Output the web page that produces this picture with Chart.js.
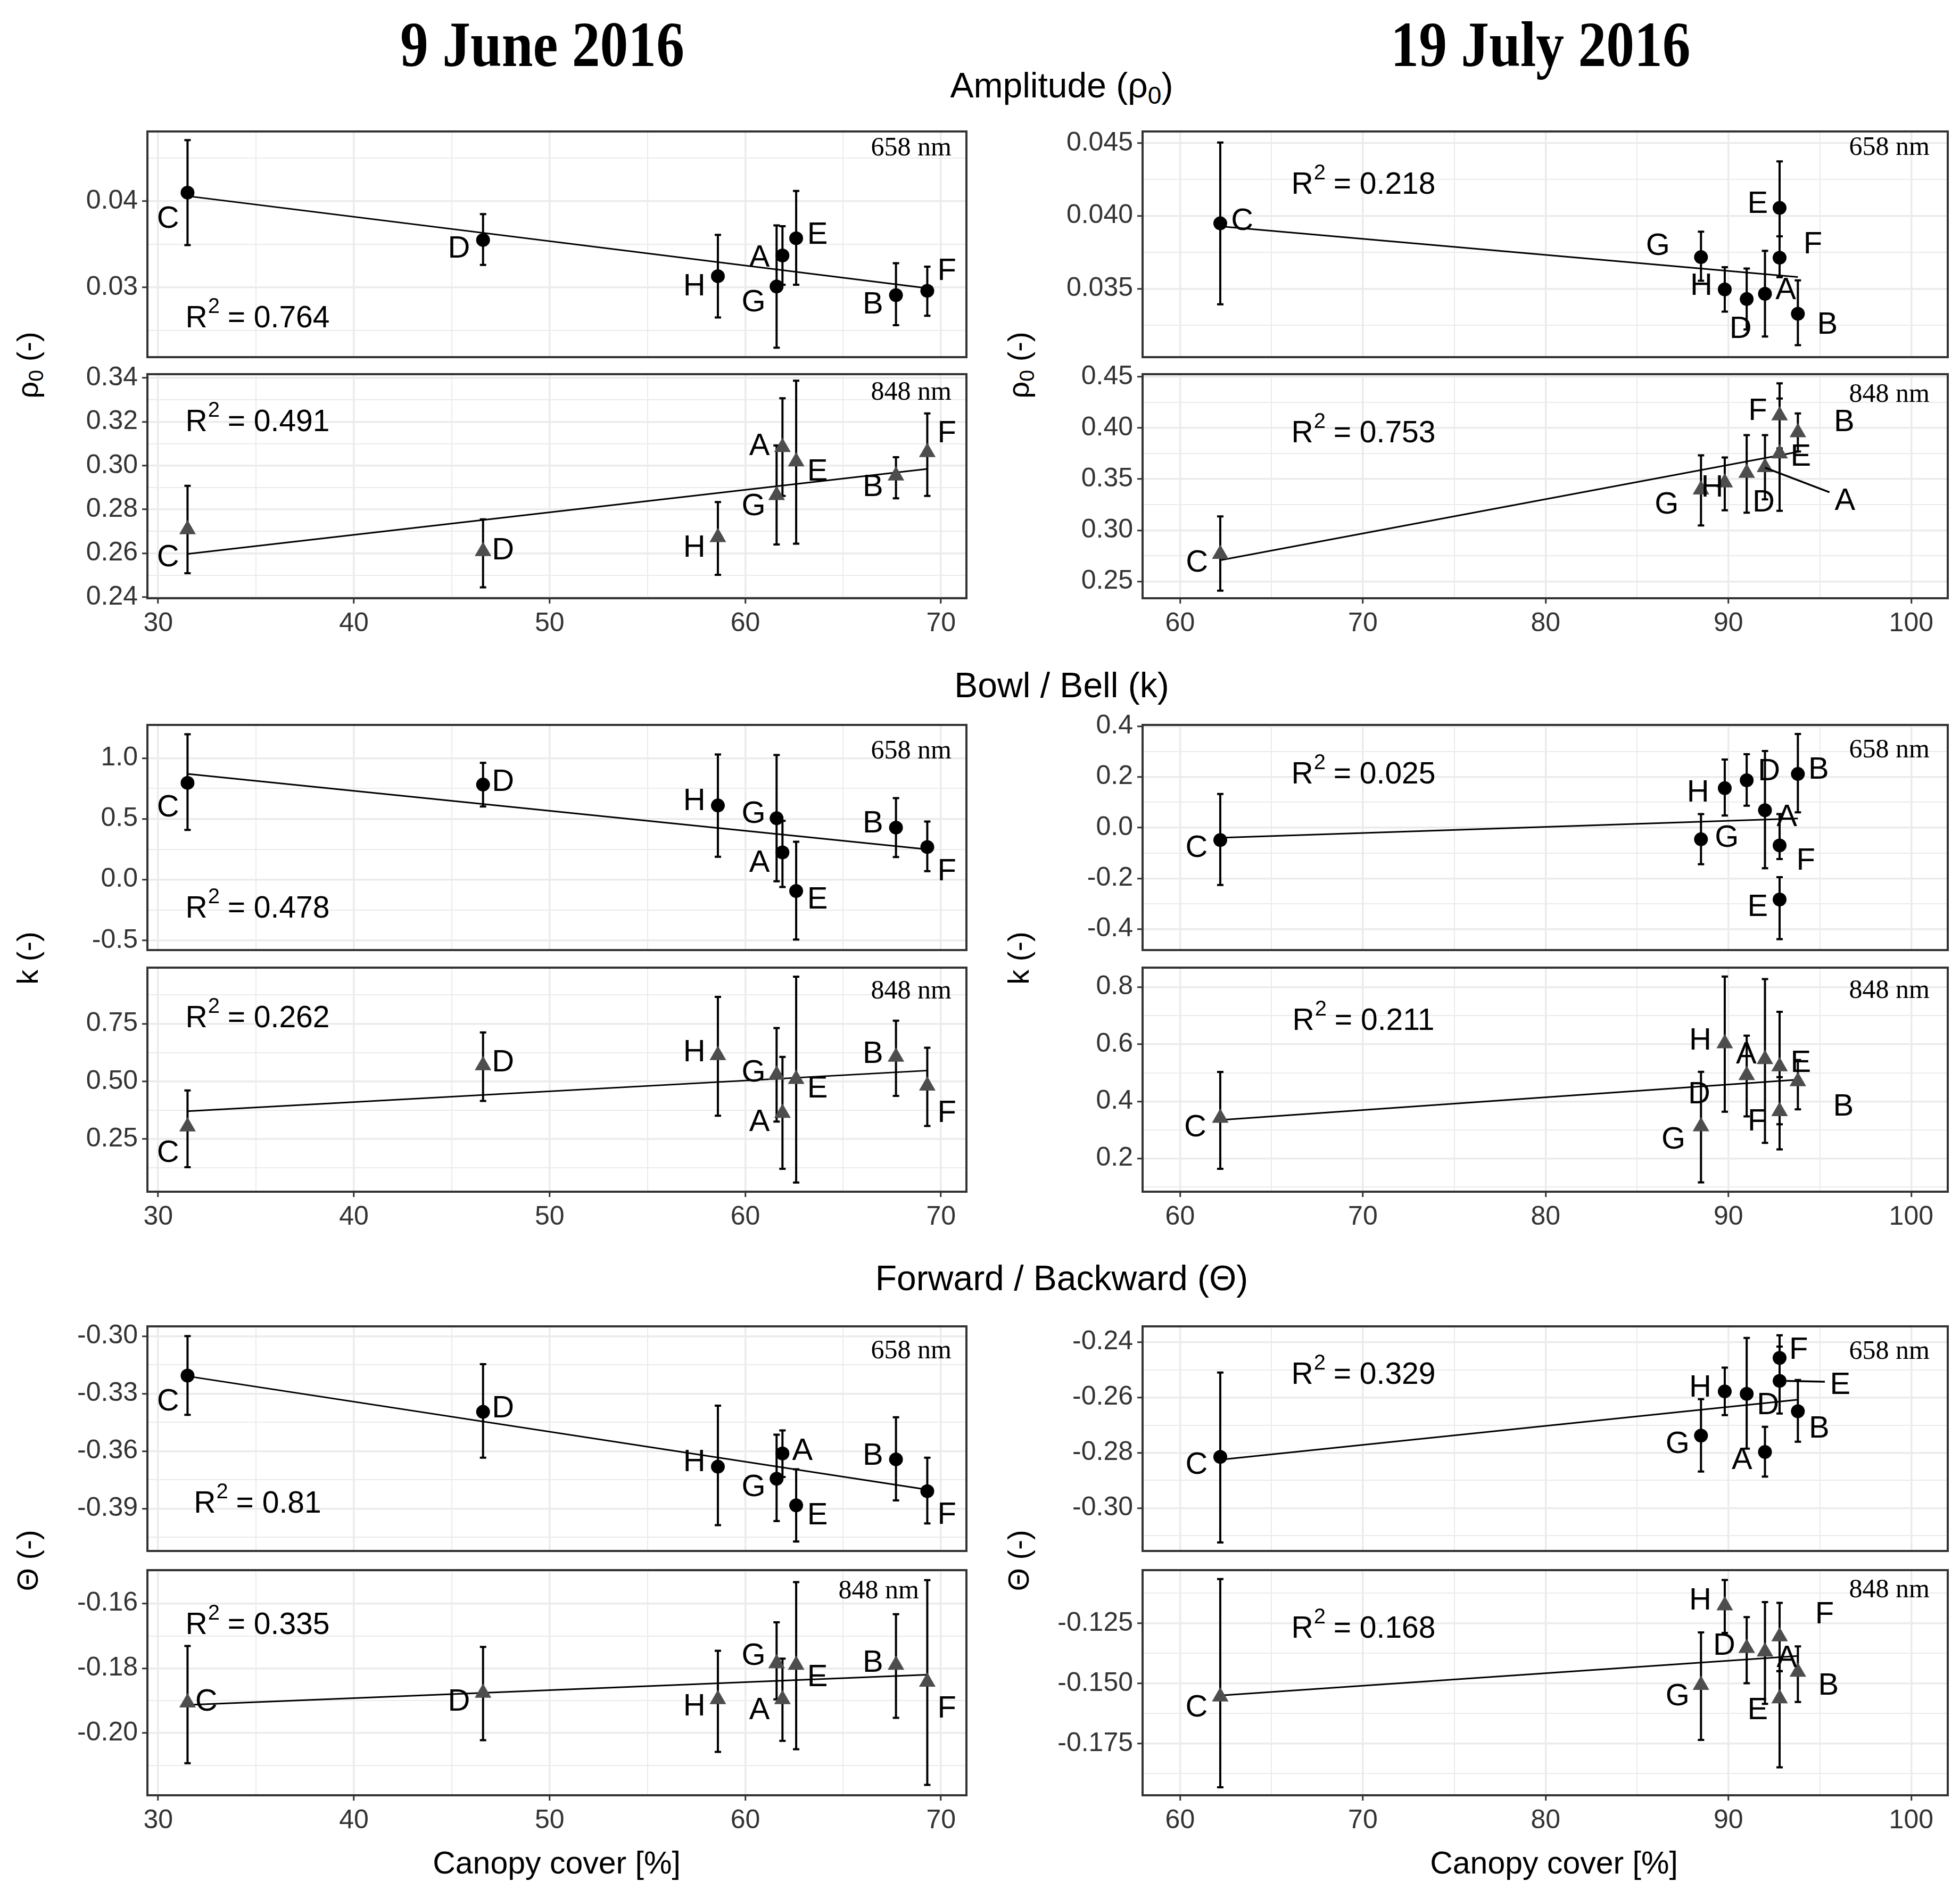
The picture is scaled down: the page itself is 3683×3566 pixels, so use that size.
<!DOCTYPE html>
<html lang="en">
<head>
<meta charset="UTF-8" />
<title>Canopy cover vs BRDF parameters</title>
<script src="https://cdn.jsdelivr.net/npm/chart.js"></script>
<style>
  body { margin:0; width:3683px; height:3566px; background:#fff; position:relative; overflow:hidden;
         font-family:"Liberation Sans", Arial, sans-serif; color:#000; }
  .txt { position:absolute; white-space:nowrap; transform:translate(-50%,-50%); line-height:1; }
  .date { font-family:"Liberation Serif", serif; font-weight:bold; font-size:120px; transform:translate(-50%,-50%) scaleX(0.88); }
  .section { font-size:66px; }
  .ytitle { font-size:56px; transform:translate(-50%,-50%) rotate(-90deg); }
  .xtitle { font-size:59px; }
  sub { font-size:0.7em; vertical-align:-0.25em; line-height:0; }
  canvas { position:absolute; }
</style>
</head>
<body>
<div class="txt date" style="left:1019px;top:84px">9 June 2016</div>
<div class="txt date" style="left:2895px;top:84px">19 July 2016</div>
<div class="txt section" style="left:1995px;top:160px">Amplitude (ρ<sub>0</sub>)</div>
<div class="txt section" style="left:1995px;top:1287px">Bowl / Bell (k)</div>
<div class="txt section" style="left:1995px;top:2401px">Forward / Backward (Θ)</div>
<div class="txt ytitle" style="left:52px;top:686px">ρ<sub>0</sub> (-)</div>
<div class="txt ytitle" style="left:1914px;top:686px">ρ<sub>0</sub> (-)</div>
<div class="txt ytitle" style="left:52px;top:1800px">k (-)</div>
<div class="txt ytitle" style="left:1914px;top:1800px">k (-)</div>
<div class="txt ytitle" style="left:52px;top:2932px">Θ (-)</div>
<div class="txt ytitle" style="left:1914px;top:2932px">Θ (-)</div>
<div class="txt xtitle" style="left:1046px;top:3500px">Canopy cover [%]</div>
<div class="txt xtitle" style="left:2920px;top:3500px">Canopy cover [%]</div>
<script>
// sites, in this order everywhere: A B C D E F G H
var sites = ["A", "B", "C", "D", "E", "F", "G", "H"];
var coverJune = [61.9, 67.7, 31.5, 46.6, 62.6, 69.3, 61.6, 58.6];
var coverJuly = [92.0, 93.8, 62.2, 91.0, 92.8, 92.8, 88.5, 89.8];

// amplitude rho0, 9 June
var rhoJun658 = [0.0337, 0.0291, 0.0410, 0.0355, 0.0357, 0.0296, 0.0301, 0.0313];
var rhoJun658Lo = [0.0303, 0.0256, 0.0349, 0.0326, 0.0303, 0.0267, 0.0230, 0.0265];
var rhoJun658Hi = [0.0371, 0.0328, 0.0471, 0.0385, 0.0412, 0.0324, 0.0372, 0.0361];
var rhoJun658Fit = [0.0406, 0.0299];
var rhoJun848 = [0.3084, 0.2954, 0.2709, 0.2609, 0.3018, 0.3061, 0.2865, 0.2673];
var rhoJun848Lo = [0.2862, 0.2851, 0.2509, 0.2445, 0.2644, 0.2862, 0.2640, 0.2502];
var rhoJun848Hi = [0.3307, 0.3038, 0.2908, 0.2755, 0.3387, 0.3238, 0.3092, 0.2834];
var rhoJun848Fit = [0.2597, 0.2985];
// amplitude rho0, 19 July
var rhoJul658 = [0.03465, 0.03328, 0.03949, 0.03429, 0.04055, 0.03713, 0.03717, 0.03495];
var rhoJul658Lo = [0.03172, 0.03112, 0.03393, 0.0322, 0.0386, 0.03579, 0.03555, 0.03343];
var rhoJul658Hi = [0.0376, 0.03557, 0.04504, 0.03639, 0.04374, 0.0386, 0.03892, 0.03648];
var rhoJul658Fit = [0.03928, 0.0358];
var rhoJul848 = [0.3616, 0.3957, 0.2768, 0.356, 0.375, 0.4121, 0.3397, 0.3466];
var rhoJul848Lo = [0.3302, 0.3771, 0.241, 0.3172, 0.319, 0.38, 0.3047, 0.3195];
var rhoJul848Hi = [0.3931, 0.4143, 0.3136, 0.3931, 0.4288, 0.4436, 0.3733, 0.3712];
var rhoJul848Fit = [0.2708, 0.3767];

// bowl / bell k
var kJun658 = [0.224, 0.428, 0.796, 0.782, -0.094, 0.268, 0.505, 0.610];
var kJun658Lo = [-0.061, 0.185, 0.409, 0.602, -0.494, 0.069, -0.014, 0.188];
var kJun658Hi = [0.483, 0.671, 1.196, 0.961, 0.312, 0.478, 1.025, 1.030];
var kJun658Fit = [0.870, 0.249];
var kJun848 = [0.363, 0.606, 0.304, 0.569, 0.510, 0.481, 0.528, 0.613];
var kJun848Lo = [0.121, 0.437, 0.128, 0.415, 0.062, 0.307, 0.326, 0.351];
var kJun848Hi = [0.606, 0.763, 0.461, 0.712, 0.954, 0.646, 0.731, 0.866];
var kJun848Fit = [0.371, 0.547];
var kJul658 = [0.0688, 0.2118, -0.049, 0.1868, -0.2833, -0.0701, -0.0458, 0.1556];
var kJul658Lo = [-0.160, 0.0604, -0.226, 0.0868, -0.4396, -0.124, -0.1444, 0.0479];
var kJul658Hi = [0.302, 0.3694, 0.133, 0.2896, -0.195, 0.0535, 0.0535, 0.2688];
var kJul658Fit = [-0.04, 0.036];
var kJul848 = [0.547, 0.47, 0.342, 0.4914, 0.522, 0.365, 0.3123, 0.6025];
var kJul848Lo = [0.255, 0.372, 0.164, 0.3475, 0.32, 0.232, 0.1167, 0.3636];
var kJul848Hi = [0.828, 0.545, 0.503, 0.6302, 0.7136, 0.485, 0.5037, 0.837];
var kJul848Fit = [0.335, 0.476];

// forward / backward theta
var thJun658 = [-0.3612, -0.3643, -0.3206, -0.3395, -0.3883, -0.3809, -0.3744, -0.3681];
var thJun658Lo = [-0.3735, -0.3857, -0.3411, -0.3634, -0.4072, -0.3977, -0.3965, -0.3986];
var thJun658Hi = [-0.3492, -0.3423, -0.3000, -0.3146, -0.3695, -0.3634, -0.3514, -0.3363];
var thJun658Fit = [-0.3209, -0.3801];
var thJun848 = [-0.1896, -0.1790, -0.1906, -0.1876, -0.1790, -0.1842, -0.1785, -0.1896];
var thJun848Lo = [-0.2024, -0.1953, -0.2093, -0.2022, -0.2050, -0.2160, -0.1896, -0.2058];
var thJun848Hi = [-0.1770, -0.1633, -0.1731, -0.1734, -0.1534, -0.1528, -0.1658, -0.1746];
var thJun848Fit = [-0.1913, -0.1820];
var thJul658 = [-0.2797, -0.265, -0.2815, -0.2587, -0.254, -0.2457, -0.2738, -0.2578];
var thJul658Lo = [-0.2886, -0.276, -0.3124, -0.2785, -0.2658, -0.2535, -0.2868, -0.2664];
var thJul658Hi = [-0.2706, -0.2537, -0.251, -0.2385, -0.2416, -0.2375, -0.2606, -0.2492];
var thJul658Fit = [-0.2825, -0.2608];
var thJul848 = [-0.1368, -0.1452, -0.1555, -0.1353, -0.1563, -0.1305, -0.1507, -0.1176];
var thJul848Lo = [-0.1585, -0.1577, -0.1932, -0.1499, -0.1849, -0.1449, -0.1735, -0.1290];
var thJul848Hi = [-0.1162, -0.1346, -0.1066, -0.1224, -0.1449, -0.1165, -0.1288, -0.1070];
var thJul848Fit = [-0.155, -0.1386];

// R squared per panel (row by row, June then July)
var r2Jun = ["0.764", "0.491", "0.478", "0.262", "0.81", "0.335"];
var r2Jul = ["0.218", "0.753", "0.025", "0.211", "0.329", "0.168"];

// x axes
var xJuneRange = [29.45, 71.3];
var xJuneTicks = [30, 40, 50, 60, 70];
var xJuneTickLabels = ["30", "40", "50", "60", "70"];
var xJuneMinor = [35, 45, 55, 65];
var xJulyRange = [57.95, 102];
var xJulyTicks = [60, 70, 80, 90, 100];
var xJulyTickLabels = ["60", "70", "80", "90", "100"];
var xJulyMinor = [65, 75, 85, 95];

// y axes
var yRhoJun658 = { range: [0.0219, 0.0481], ticks: [0.03, 0.04], labels: ["0.03", "0.04"], minor: [0.025, 0.035, 0.045] };
var yRhoJun848 = { range: [0.2395, 0.3417], ticks: [0.24, 0.26, 0.28, 0.30, 0.32, 0.34], labels: ["0.24", "0.26", "0.28", "0.30", "0.32", "0.34"], minor: [0.25, 0.27, 0.29, 0.31, 0.33] };
var yKJun658 = { range: [-0.58, 1.273], ticks: [-0.5, 0, 0.5, 1.0], labels: ["-0.5", "0.0", "0.5", "1.0"], minor: [-0.25, 0.25, 0.75] };
var yKJun848 = { range: [0.022, 0.993], ticks: [0.25, 0.5, 0.75], labels: ["0.25", "0.50", "0.75"], minor: [0.125, 0.375, 0.625, 0.875] };
var yThJun658 = { range: [-0.4121, -0.2949], ticks: [-0.39, -0.36, -0.33, -0.30], labels: ["-0.39", "-0.36", "-0.33", "-0.30"], minor: [-0.405, -0.375, -0.345, -0.315] };
var yThJun848 = { range: [-0.2192, -0.1497], ticks: [-0.20, -0.18, -0.16], labels: ["-0.20", "-0.18", "-0.16"], minor: [-0.21, -0.19, -0.17, -0.15] };
var yRhoJul658 = { range: [0.0303, 0.0458], ticks: [0.035, 0.040, 0.045], labels: ["0.035", "0.040", "0.045"], minor: [0.0325, 0.0375, 0.0425] };
var yRhoJul848 = { range: [0.2336, 0.4526], ticks: [0.25, 0.30, 0.35, 0.40, 0.45], labels: ["0.25", "0.30", "0.35", "0.40", "0.45"], minor: [0.275, 0.325, 0.375, 0.425] };
var yKJul658 = { range: [-0.4826, 0.405], ticks: [-0.4, -0.2, 0, 0.2, 0.4], labels: ["-0.4", "-0.2", "0.0", "0.2", "0.4"], minor: [-0.3, -0.1, 0.1, 0.3] };
var yKJul848 = { range: [0.084, 0.868], ticks: [0.2, 0.4, 0.6, 0.8], labels: ["0.2", "0.4", "0.6", "0.8"], minor: [0.1, 0.3, 0.5, 0.7] };
var yThJul658 = { range: [-0.3155, -0.2343], ticks: [-0.30, -0.28, -0.26, -0.24], labels: ["-0.30", "-0.28", "-0.26", "-0.24"], minor: [-0.31, -0.29, -0.27, -0.25] };
var yThJul848 = { range: [-0.1965, -0.1029], ticks: [-0.175, -0.15, -0.125], labels: ["-0.175", "-0.150", "-0.125"], minor: [-0.1875, -0.1625, -0.1375, -0.1125] };

// ---- layout (pixels) ----
var K = 2.349; // label offsets were measured on the reduced picture
var colLeft = [277, 2147], colRight = [1816, 3660];
var rowTop = [247, 703, 1362, 1818, 2492, 2950];
var rowBottom = [671, 1124, 1785, 2239, 2914, 3373];
var r2PosJun = [[207, 352], [207, 91], [207, 346], [207, 96], [207, 334], [207, 104]];
var r2PosJul = [[415, 101], [415, 112], [415, 94], [415, 101], [415, 92], [415, 111]];
var nmPosJun = [[28, 32], [28, 35], [28, 50], [28, 45], [28, 47], [89, 40]];
var nmPosJul = [[34, 31], [34, 39], [34, 48], [34, 44], [34, 48], [34, 38]];

// site label offsets from each point (A..H)
var offRhoJun658 = [[-18.4, 1.1], [-18.4, 7.1], [-15.6, 20.4], [-19.3, 6.5], [17, -3.4], [15.6, -16.4], [-18.4, 12.2], [-18.8, 7.7]];
var offRhoJun848 = [[-18.4, -1.4], [-18.4, 8.5], [-15.6, 21.8], [16, -1.4], [17, 7.7], [15.6, -15.6], [-18.4, 8.5], [-18.8, 7.7]];
var offKJun658 = [[-18.4, 7.7], [-18.4, -3.6], [-15.6, 19.3], [16, -2.8], [17, 6.3], [15.6, 19], [-18.4, -4.1], [-18.8, -3.9]];
var offKJun848 = [[-18.4, 6.9], [-18.4, -2.8], [-15.6, 20.6], [16, -2.8], [17, 6.9], [15.6, 21.5], [-18.4, -2.2], [-18.8, -2.8]];
var offThJun658 = [[16, -2.6], [-18.4, -3.4], [-15.6, 20.4], [16, -3.4], [17, 7.4], [15.6, 18.5], [-18.4, 6.1], [-18.8, -4]];
var offThJun848 = [[-18.4, 8], [-18.4, -2.1], [15, -1.3], [-19.3, 6.6], [17, 9.3], [15.6, 20.7], [-18.4, -6.6], [-18.8, 5.3]];
var offRhoJul658 = [[16.6, -3.5], [23.6, 8.5], [17.5, -2.4], [-4.9, 23.3], [-17.5, -3.8], [26.6, -11], [-34.5, -9.2], [-18.7, -3.5]];
var offRhoJul848 = [[64, 26.4], [37, -8.5], [-18.6, 6.2], [13.5, 23.3], [17, 2.1], [-17.5, -4.2], [-27.5, 11.3], [-10, 3.5]];
var offKJul658 = [[17.5, 5.2], [16.6, -3.8], [-19, 6], [17.9, -7.5], [-17.5, 5.6], [21, 11.6], [20.6, -1.8], [-21.4, 3.1]];
var offKJul848 = [[-15, -4.3], [36.4, 19.9], [-20, 7], [-38, 15], [17, -3.5], [-18, 7.8], [-22, 10], [-19.6, -2.8]];
var offThJul658 = [[-18.4, 5.9], [17, 13.6], [-19, 6], [17, 8.7], [48.5, 2.8], [15.2, -7], [-18.7, 6.3], [-19.6, -3.5]];
var offThJul848 = [[17.5, 4.5], [24.5, 10.6], [-19, 8], [-18, -2.3], [-17.5, 9], [36, -18], [-18.7, 8.3], [-19.6, -4.5]];

var panels = [
  { col: 0, row: 0, x: coverJune, y: rhoJun658, lo: rhoJun658Lo, hi: rhoJun658Hi, fit: rhoJun658Fit, ya: yRhoJun658, off: offRhoJun658 },
  { col: 0, row: 1, x: coverJune, y: rhoJun848, lo: rhoJun848Lo, hi: rhoJun848Hi, fit: rhoJun848Fit, ya: yRhoJun848, off: offRhoJun848 },
  { col: 0, row: 2, x: coverJune, y: kJun658, lo: kJun658Lo, hi: kJun658Hi, fit: kJun658Fit, ya: yKJun658, off: offKJun658 },
  { col: 0, row: 3, x: coverJune, y: kJun848, lo: kJun848Lo, hi: kJun848Hi, fit: kJun848Fit, ya: yKJun848, off: offKJun848 },
  { col: 0, row: 4, x: coverJune, y: thJun658, lo: thJun658Lo, hi: thJun658Hi, fit: thJun658Fit, ya: yThJun658, off: offThJun658 },
  { col: 0, row: 5, x: coverJune, y: thJun848, lo: thJun848Lo, hi: thJun848Hi, fit: thJun848Fit, ya: yThJun848, off: offThJun848 },
  { col: 1, row: 0, x: coverJuly, y: rhoJul658, lo: rhoJul658Lo, hi: rhoJul658Hi, fit: rhoJul658Fit, ya: yRhoJul658, off: offRhoJul658 },
  { col: 1, row: 1, x: coverJuly, y: rhoJul848, lo: rhoJul848Lo, hi: rhoJul848Hi, fit: rhoJul848Fit, ya: yRhoJul848, off: offRhoJul848,
    leaders: { 0: [[0, 0.3], [51.6, 20]] } },
  { col: 1, row: 2, x: coverJuly, y: kJul658, lo: kJul658Lo, hi: kJul658Hi, fit: kJul658Fit, ya: yKJul658, off: offKJul658 },
  { col: 1, row: 3, x: coverJuly, y: kJul848, lo: kJul848Lo, hi: kJul848Hi, fit: kJul848Fit, ya: yKJul848, off: offKJul848 },
  { col: 1, row: 4, x: coverJuly, y: thJul658, lo: thJul658Lo, hi: thJul658Hi, fit: thJul658Fit, ya: yThJul658, off: offThJul658,
    leaders: { 4: [[5.6, 0], [36.2, 0.7]] } },
  { col: 1, row: 5, x: coverJuly, y: thJul848, lo: thJul848Lo, hi: thJul848Hi, fit: thJul848Fit, ya: yThJul848, off: offThJul848 }
];

var SANS = '"Liberation Sans", Arial, sans-serif';
var SERIF = '"Liberation Serif", "Times New Roman", serif';

// R^2 = value, with a raised 2
function drawR2(ctx, cx, cy, val) {
  var big = '57px ' + SANS, small = '40px ' + SANS;
  ctx.font = big;
  var wR = ctx.measureText('R').width;
  var wRest = ctx.measureText(' = ' + val).width;
  ctx.font = small;
  var w2 = ctx.measureText('2').width;
  var x0 = cx - (wR + w2 + wRest) / 2;
  ctx.textAlign = 'left';
  ctx.textBaseline = 'middle';
  ctx.fillStyle = '#000';
  ctx.font = big;
  ctx.fillText('R', x0, cy);
  ctx.font = small;
  ctx.fillText('2', x0 + wR + 1, cy - 22);
  ctx.font = big;
  ctx.fillText(' = ' + val, x0 + wR + w2, cy);
}

function makeDecor(p) {
  var isJune = p.col === 0;
  var band = p.row % 2 === 0 ? '658 nm' : '848 nm';
  var r2 = isJune ? r2Jun[p.row] : r2Jul[p.row];
  var r2Pos = isJune ? r2PosJun[p.row] : r2PosJul[p.row];
  var nmPos = isJune ? nmPosJun[p.row] : nmPosJul[p.row];
  return {
    id: 'decor',
    beforeDatasetsDraw: function (chart) {
      var ctx = chart.ctx, xs = chart.scales.x, ys = chart.scales.y;
      ctx.save();
      ctx.strokeStyle = '#000';
      ctx.lineWidth = 4;
      for (var i = 0; i < p.x.length; i++) {
        var px = xs.getPixelForValue(p.x[i]);
        var a = ys.getPixelForValue(p.lo[i]), b = ys.getPixelForValue(p.hi[i]);
        ctx.beginPath();
        ctx.moveTo(px, a); ctx.lineTo(px, b);
        ctx.moveTo(px - 6, a); ctx.lineTo(px + 6, a);
        ctx.moveTo(px - 6, b); ctx.lineTo(px + 6, b);
        ctx.stroke();
      }
      ctx.restore();
    },
    afterDatasetsDraw: function (chart) {
      var ctx = chart.ctx, xs = chart.scales.x, ys = chart.scales.y, ca = chart.chartArea;
      ctx.save();
      // leader lines
      if (p.leaders) {
        ctx.strokeStyle = '#000';
        ctx.lineWidth = 3.5;
        Object.keys(p.leaders).forEach(function (k) {
          var seg = p.leaders[k];
          var px = xs.getPixelForValue(p.x[k]), py = ys.getPixelForValue(p.y[k]);
          ctx.beginPath();
          ctx.moveTo(px + seg[0][0] * K, py + seg[0][1] * K);
          ctx.lineTo(px + seg[1][0] * K, py + seg[1][1] * K);
          ctx.stroke();
        });
      }
      // site labels
      ctx.fillStyle = '#000';
      ctx.font = '58px ' + SANS;
      ctx.textAlign = 'center';
      ctx.textBaseline = 'middle';
      for (var i = 0; i < p.x.length; i++) {
        var px = xs.getPixelForValue(p.x[i]), py = ys.getPixelForValue(p.y[i]);
        ctx.fillText(sites[i], px + p.off[i][0] * K, py + p.off[i][1] * K + 2);
      }
      drawR2(ctx, ca.left + r2Pos[0], ca.top + r2Pos[1], r2);
      ctx.font = '50px ' + SERIF;
      ctx.textAlign = 'right';
      ctx.textBaseline = 'middle';
      ctx.fillText(band, ca.right - nmPos[0], ca.top + nmPos[1]);
      // panel border
      ctx.strokeStyle = '#333';
      ctx.lineWidth = 4;
      ctx.strokeRect(ca.left, ca.top, ca.right - ca.left, ca.bottom - ca.top);
      ctx.restore();
    }
  };
}

function drawPanel(p) {
  var isJune = p.col === 0;
  var bottomAxis = p.row % 2 === 1;
  var xRange = isJune ? xJuneRange : xJulyRange;
  var xTicks = isJune ? xJuneTicks : xJulyTicks;
  var xLabels = isJune ? xJuneTickLabels : xJulyTickLabels;
  var xMinor = isJune ? xJuneMinor : xJulyMinor;
  var triangle = p.row % 2 === 1;

  var left = colLeft[p.col], right = colRight[p.col];
  var top = rowTop[p.row], bottom = rowBottom[p.row];
  var padL = 220, padR = 60, padT = 50, padB = bottomAxis ? 100 : 50;

  var canvas = document.createElement('canvas');
  canvas.width = right - left + padL + padR;
  canvas.height = bottom - top + padT + padB;
  canvas.style.left = (left - padL) + 'px';
  canvas.style.top = (top - padT) + 'px';
  document.body.appendChild(canvas);

  var pts = p.x.map(function (v, i) { return { x: v, y: p.y[i] }; });
  var xMin = Math.min.apply(null, p.x), xMax = Math.max.apply(null, p.x);
  var nYMajor = p.ya.ticks.length, nXMajor = xTicks.length;

  new Chart(canvas, {
    type: 'scatter',
    data: {
      datasets: [
        {
          data: [{ x: xMin, y: p.fit[0] }, { x: xMax, y: p.fit[1] }],
          showLine: true, borderColor: '#000', borderWidth: 3, pointRadius: 0, order: 1
        },
        {
          data: pts,
          pointStyle: triangle ? 'triangle' : 'circle',
          pointRadius: triangle ? 18 : 13,
          backgroundColor: triangle ? '#4D4D4D' : '#000',
          borderWidth: 0, order: 0
        }
      ]
    },
    options: {
      responsive: false,
      animation: false,
      devicePixelRatio: 1,
      events: [],
      layout: { padding: { left: 0, right: padR, top: padT, bottom: 0 } },
      plugins: { legend: { display: false }, tooltip: { enabled: false } },
      scales: {
        x: {
          type: 'linear', min: xRange[0], max: xRange[1],
          afterBuildTicks: function (s) { s.ticks = xTicks.concat(xMinor).map(function (v) { return { value: v }; }); },
          afterFit: function (s) { s.height = padB; },
          border: { display: false },
          grid: {
            color: '#EBEBEB',
            lineWidth: function (c) { return c.index < nXMajor ? 3.5 : 2; },
            drawTicks: true, tickLength: 10, tickWidth: 3,
            tickColor: function (c) { return bottomAxis && c.index < nXMajor ? '#333' : 'rgba(0,0,0,0)'; }
          },
          ticks: {
            autoSkip: false, maxRotation: 0, padding: 8, color: '#333',
            font: { family: 'Liberation Sans', size: 50 },
            callback: function (v, idx) { return bottomAxis && idx < nXMajor ? xLabels[idx] : ''; }
          }
        },
        y: {
          type: 'linear', min: p.ya.range[0], max: p.ya.range[1],
          afterBuildTicks: function (s) { s.ticks = p.ya.ticks.concat(p.ya.minor).map(function (v) { return { value: v }; }); },
          afterFit: function (s) { s.width = padL; },
          border: { display: false },
          grid: {
            color: '#EBEBEB',
            lineWidth: function (c) { return c.index < nYMajor ? 3.5 : 2; },
            drawTicks: true, tickLength: 10, tickWidth: 3,
            tickColor: function (c) { return c.index < nYMajor ? '#333' : 'rgba(0,0,0,0)'; }
          },
          ticks: {
            autoSkip: false, padding: 8, color: '#333',
            font: { family: 'Liberation Sans', size: 50 },
            callback: function (v, idx) { return idx < nYMajor ? p.ya.labels[idx] : ''; }
          }
        }
      }
    },
    plugins: [makeDecor(p)]
  });
}

panels.forEach(drawPanel);
</script>
</body>
</html>
